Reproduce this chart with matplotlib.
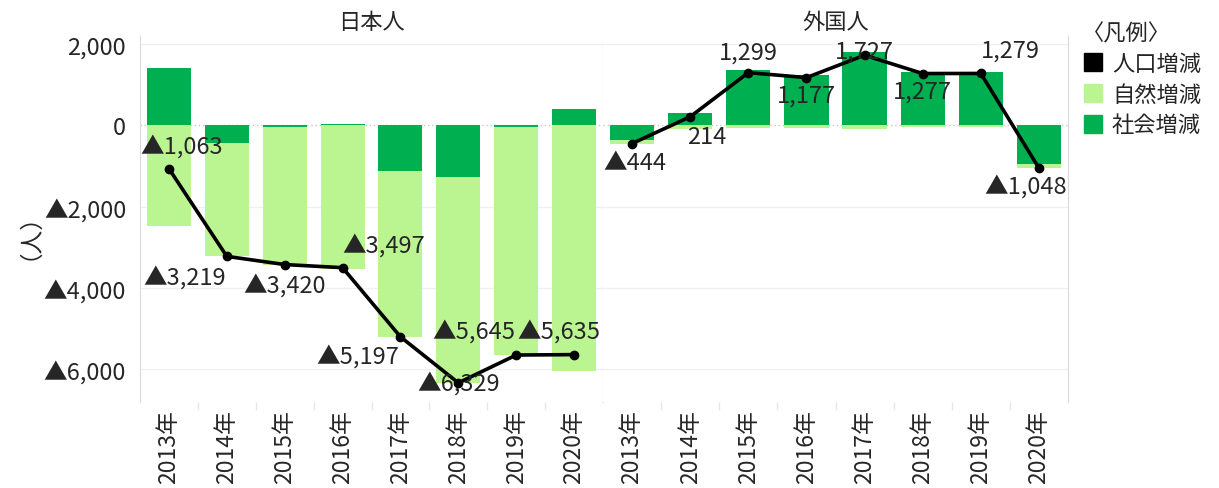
import numpy as np
import matplotlib.pyplot as plt
from matplotlib.lines import Line2D

plt.rcParams['font.family'] = ['Noto Sans CJK JP', 'DejaVu Sans']

years = ['2013年', '2014年', '2015年', '2016年', '2017年', '2018年', '2019年', '2020年']

# 日本人
natural_jp = [-2480, -2800, -3380, -3537, -4067, -5065, -5615, -6035]
social_jp = [1417, -419, -40, 40, -1130, -1264, -30, 400]
total_jp = [-1063, -3219, -3420, -3497, -5197, -6329, -5645, -5635]

# 外国人
natural_fr = [-89, -86, -70, -60, -86, -46, -44, -93]
social_fr = [-355, 300, 1369, 1237, 1813, 1323, 1323, -955]
total_fr = [-444, 214, 1299, 1177, 1727, 1277, 1279, -1048]

# label offsets in pixels (dx, dy) relative to the line point
off_jp = [(13, 23), (-42, -20), (0, -20), (41, 23), (-43, -19), (0, 0), (-42, 24), (-15, 24)]
off_fr = [(3, -19), (17, -20), (0, 21), (0, -18), (0, 4), (0, -18), (30, 23), (-13, -18)]

C_NAT = '#bbf592'
C_SOC = '#00b050'
C_TXT = '#262626'
C_GRID = '#d9d9d9'
FS = 17


def fmt(v):
    v = int(round(v))
    return f'▲{abs(v):,}' if v < 0 else f'{v:,}'


W, H = 1219, 489
fig = plt.figure(figsize=(W / 100, H / 100), dpi=100)
top, bot = 37, 403
ax1 = fig.add_axes([140 / W, 1 - bot / H, 463 / W, (bot - top) / H])
ax2 = fig.add_axes([603 / W, 1 - bot / H, 465 / W, (bot - top) / H], sharey=ax1)

x = np.arange(len(years))
for ax, nat, soc, tot, offs, title in [
        (ax1, natural_jp, social_jp, total_jp, off_jp, '日本人'),
        (ax2, natural_fr, social_fr, total_fr, off_fr, '外国人')]:
    nat = np.array(nat)
    soc = np.array(soc)
    same = np.sign(nat) == np.sign(soc)
    nat_bottom = np.where(same, soc, 0)
    for yv in [2000, -2000, -4000, -6000]:
        ax.axhline(yv, color='#f0f0f0', lw=1, zorder=0)
    ax.axhline(0, color='#c8c8c8', lw=1, ls=(0, (1, 2)), zorder=0)
    ax.bar(x, soc, width=0.76, color=C_SOC, zorder=2)
    ax.bar(x, nat, width=0.76, bottom=nat_bottom, color=C_NAT, zorder=2)
    ax.plot(x, tot, color='black', lw=2.6, marker='o', ms=6, zorder=4)
    for xi, v, (dx, dy) in zip(x, tot, offs):
        ax.annotate(fmt(v), (xi, v), xytext=(dx, dy), textcoords='offset pixels',
                    ha='center', va='center', fontsize=FS, color=C_TXT, zorder=5)
    ax.set_xlim(-0.5, len(years) - 0.5)
    ax.set_xticks(x)
    ax.set_xticklabels(years, rotation=90, fontsize=FS - 0.5, color=C_TXT)
    ax.set_xticks(x[:-1] + 0.5, minor=True)
    ax.tick_params(axis='x', which='major', length=0, pad=5)
    ax.tick_params(axis='x', which='minor', length=6, color='#e6e6e6', width=1)
    for s in ['top', 'bottom']:
        ax.spines[s].set_visible(False)
    ax.spines['right'].set_color(C_GRID)
    ax.spines['left'].set_color(C_GRID)
    ax.set_title(title, fontsize=FS - 1, color=C_TXT, pad=6)

ax2.spines['left'].set_visible(False)
ax1.set_ylim(-6800, 2200)
yt = [2000, 0, -2000, -4000, -6000]
ax1.set_yticks(yt)
ax1.set_yticklabels([fmt(v) for v in yt], fontsize=FS, color=C_TXT)
ax1.tick_params(axis='y', length=0, pad=10)
ax2.tick_params(axis='y', length=0, labelleft=False)

fig.text(18 / W, 1 - 225 / H, '（人）', rotation=90, ha='center', va='center',
         fontsize=FS, color=C_TXT)

handles = [Line2D([], [], ls='none', marker='s', ms=13, color=c)
           for c in ['black', C_NAT, C_SOC]]
leg = fig.legend(handles, ['人口増減', '自然増減', '社会増減'], title='〈凡例〉',
                 loc='upper left', bbox_to_anchor=(1062 / W, 1 - 2 / H),
                 frameon=False, fontsize=FS - 1, title_fontsize=FS - 1,
                 handlelength=1.0, handletextpad=0.35, labelspacing=0.35,
                 alignment='left')
for t in leg.get_texts():
    t.set_color(C_TXT)
leg.get_title().set_color(C_TXT)

fig.savefig('out.png', dpi=100)
